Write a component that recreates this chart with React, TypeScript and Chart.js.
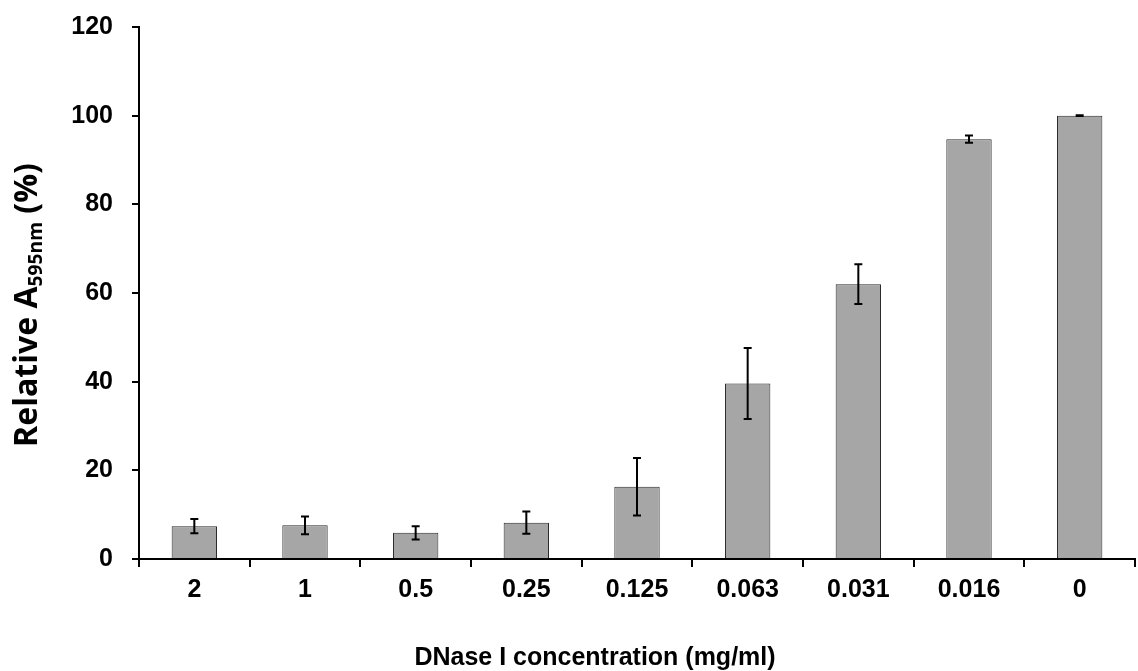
import React, { useEffect, useRef } from "react";
import { Chart, registerables } from "chart.js";

Chart.register(...registerables);

const categories = ["2", "1", "0.5", "0.25", "0.125", "0.063", "0.031", "0.016", "0"];
const values = [7.4, 7.6, 5.9, 8.2, 16.3, 39.6, 62.0, 94.7, 100.0];
const errors = [1.6, 2.0, 1.5, 2.5, 6.5, 8.0, 4.5, 0.8, 0.1];
const yTicks = [0, 20, 40, 60, 80, 100, 120];

const FONT = "'Liberation Sans', Arial, sans-serif";
const YFONT = "'Open Sans', 'Noto Sans', sans-serif";

const errorBarPlugin = {
  id: "errorBars",
  afterDatasetsDraw(chart: any) {
    const ctx = chart.ctx;
    const meta = chart.getDatasetMeta(0);
    const y = chart.scales.y;
    ctx.save();
    ctx.strokeStyle = "#000";
    ctx.lineWidth = 2;
    meta.data.forEach((bar: any, i: number) => {
      const top = y.getPixelForValue(values[i] + errors[i]);
      const bot = y.getPixelForValue(values[i] - errors[i]);
      const x = bar.x;
      const cap = 4;
      ctx.beginPath();
      ctx.moveTo(x, top);
      ctx.lineTo(x, bot);
      ctx.moveTo(x - cap, top);
      ctx.lineTo(x + cap, top);
      ctx.moveTo(x - cap, bot);
      ctx.lineTo(x + cap, bot);
      ctx.stroke();
    });
    ctx.restore();
  },
};

const titlesPlugin = {
  id: "titles",
  afterDraw(chart: any) {
    const ctx = chart.ctx;
    ctx.save();
    ctx.fillStyle = "#000";
    // x title
    ctx.font = `bold 25px ${FONT}`;
    ctx.textAlign = "center";
    ctx.textBaseline = "alphabetic";
    ctx.fillText("DNase I concentration (mg/ml)", 595, 665);
    // y title with subscript
    const p1 = "Relative A";
    const p2 = "595nm";
    const p3 = " (%)";
    const measure = (bs: number) => {
      ctx.font = `bold ${bs}px ${YFONT}`;
      const a = ctx.measureText(p1).width + ctx.measureText(p3).width;
      ctx.font = `bold ${bs * 0.6}px ${YFONT}`;
      return a + ctx.measureText(p2).width;
    };
    const targetLen = 284;
    const bs = 28 * (targetLen / measure(28));
    const ss = bs * 0.6;
    const big = `bold ${bs}px ${YFONT}`;
    const small = `bold ${ss}px ${YFONT}`;
    ctx.font = big;
    const w1 = ctx.measureText(p1).width;
    const w3 = ctx.measureText(p3).width;
    ctx.font = small;
    const w2 = ctx.measureText(p2).width;
    const total = w1 + w2 + w3;
    ctx.translate(37, 305);
    ctx.rotate(-Math.PI / 2);
    let x = -total / 2;
    ctx.textAlign = "left";
    ctx.font = big;
    ctx.fillText(p1, x, 0);
    x += w1;
    ctx.font = small;
    ctx.fillText(p2, x, 5);
    x += w2;
    ctx.font = big;
    ctx.fillText(p3, x, 0);
    ctx.restore();
  },
};

export default function App() {
  const ref = useRef<HTMLCanvasElement>(null);
  useEffect(() => {
    if (!ref.current) return;
    const chart = new Chart(ref.current, {
      type: "bar",
      data: {
        labels: categories,
        datasets: [
          {
            data: values,
            backgroundColor: "#a6a6a6",
            borderColor: "#2a2a2a",
            borderWidth: 1,
            categoryPercentage: 1,
            barPercentage: 0.41,
          },
        ],
      },
      options: {
        animation: false,
        responsive: false,
        maintainAspectRatio: false,
        layout: { padding: { top: 27, right: 3, left: 0, bottom: 0 } },
        plugins: {
          legend: { display: false },
          tooltip: { enabled: false },
        },
        scales: {
          x: {
            grid: {
              display: true,
              drawOnChartArea: false,
              drawTicks: true,
              tickLength: 8,
              color: "#000",
              lineWidth: 2,
              offset: true,
            },
            border: { display: true, color: "#000", width: 2 },
            ticks: {
              color: "#000",
              font: { family: FONT, size: 25, weight: "bold" },
              padding: 8,
              maxRotation: 0,
            },
            afterFit(scale: any) {
              scale.height = 112;
              scale.paddingLeft = 0;
              scale.paddingRight = 0;
            },
          },
          y: {
            min: 0,
            max: 120,
            afterBuildTicks(scale: any) {
              scale.ticks = yTicks.map((v) => ({ value: v }));
            },
            grid: {
              display: true,
              drawOnChartArea: false,
              drawTicks: true,
              tickLength: 7,
              color: "#000",
              lineWidth: 2,
            },
            border: { display: true, color: "#000", width: 2 },
            ticks: {
              color: "#000",
              font: { family: FONT, size: 25, weight: "bold" },
              padding: 19,
            },
            afterFit(scale: any) {
              scale.width = 139;
              scale.paddingTop = 0;
              scale.paddingBottom = 0;
            },
          },
        },
      },
      plugins: [errorBarPlugin, titlesPlugin],
    });
    return () => chart.destroy();
  }, []);
  return (
    <div style={{ position: "fixed", left: 0, top: 0, width: 1138, height: 671, background: "#fff" }}>
      <canvas ref={ref} width={1138} height={671} style={{ width: 1138, height: 671 }} />
    </div>
  );
}
